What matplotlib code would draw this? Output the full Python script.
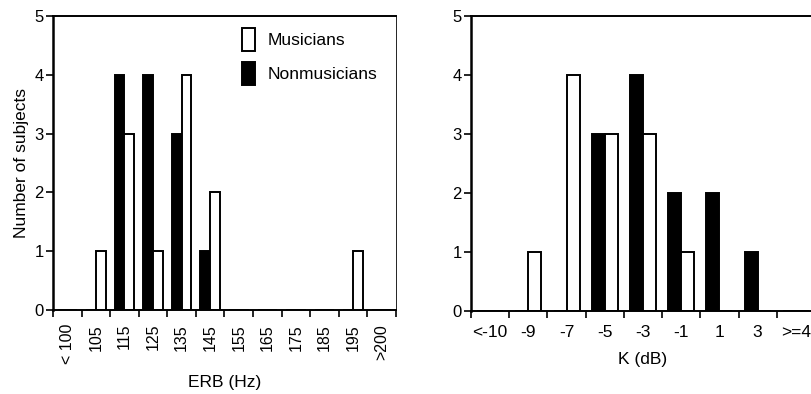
import matplotlib
matplotlib.use("Agg")
import matplotlib.pyplot as plt
import numpy as np

# ------------------------------------------------------------
# Data
# ------------------------------------------------------------
erb_labels = ["< 100", "105", "115", "125", "135", "145",
              "155", "165", "175", "185", "195", ">200"]
erb_musicians = [0, 1, 3, 1, 4, 2, 0, 0, 0, 0, 1, 0]
erb_nonmusicians = [0, 0, 4, 4, 3, 1, 0, 0, 0, 0, 0, 0]

k_labels = ["<-10", "-9", "-7", "-5", "-3", "-1", "1", "3", ">=4"]
k_musicians = [0, 1, 4, 3, 3, 1, 0, 0, 0]
k_nonmusicians = [0, 0, 0, 3, 4, 2, 2, 1, 0]

plt.rcParams["font.family"] = ["Liberation Sans", "DejaVu Sans"]

W, H = 812, 394
fig = plt.figure(figsize=(W / 100, H / 100), dpi=100)


def px_axes(x0, x1, ytop, ybot):
    return fig.add_axes([x0 / W, 1 - ybot / H, (x1 - x0) / W, (ybot - ytop) / H])


def draw_hist(ax, labels, mus, nonmus, rotate):
    n = len(labels)
    idx = np.arange(n)
    w = 0.34
    ax.bar(idx - w, nonmus, width=w, align="edge", color="black",
           edgecolor="black", linewidth=1.4, label="Nonmusicians")
    ax.bar(idx, mus, width=w, align="edge", color="white",
           edgecolor="black", linewidth=1.4, label="Musicians")
    ax.set_xlim(-0.5, n - 0.5)
    ax.set_ylim(0, 5)
    ax.set_yticks(range(6))
    # ticks at bin edges, labels at bin centres
    ax.set_xticks(np.arange(n + 1) - 0.5)
    ax.set_xticklabels([])
    ax.set_xticks(idx, minor=True)
    ax.set_xticklabels(labels, minor=True, rotation=90 if rotate else 0,
                       fontsize=11.5 if rotate else 12.5)
    ax.tick_params(axis="x", which="major", direction="out", length=5,
                   width=1.2)
    ax.tick_params(axis="x", which="minor", length=0, pad=10)
    ax.tick_params(axis="y", direction="out", length=5, width=1.2,
                   labelsize=12, pad=1.5)
    for s in ax.spines.values():
        s.set_linewidth(1.4)
    ax.spines["left"].set_linewidth(1.8)


# ------------------------------------------------------------
# Left panel: ERB
# ------------------------------------------------------------
ax1 = px_axes(53, 396, 16, 310)
draw_hist(ax1, erb_labels, erb_musicians, erb_nonmusicians, rotate=True)
ax1.spines["right"].set_linewidth(0.6)
ax1.set_ylabel("Number of subjects", fontsize=12.5)
ax1.yaxis.set_label_coords(-0.07, 0.5)
ax1.set_xlabel("ERB (Hz)", fontsize=12.5)
ax1.xaxis.set_label_coords(0.5, -0.22)

handles, lbls = ax1.get_legend_handles_labels()
fig.legend(handles[::-1], lbls[::-1], loc="upper left",
           bbox_to_anchor=(242 / W, 1 - 28 / H), frameon=False,
           borderpad=0, borderaxespad=0, handlelength=0.72,
           handleheight=1.7, handletextpad=0.75, labelspacing=0.6,
           fontsize=12.5)

# ------------------------------------------------------------
# Right panel: K
# ------------------------------------------------------------
ax2 = px_axes(471, 815, 16, 311)
draw_hist(ax2, k_labels, k_musicians, k_nonmusicians, rotate=False)
ax2.set_xlabel("K (dB)", fontsize=12.5)
ax2.xaxis.set_label_coords(0.5, -0.14)

fig.savefig("out.png", dpi=100)
